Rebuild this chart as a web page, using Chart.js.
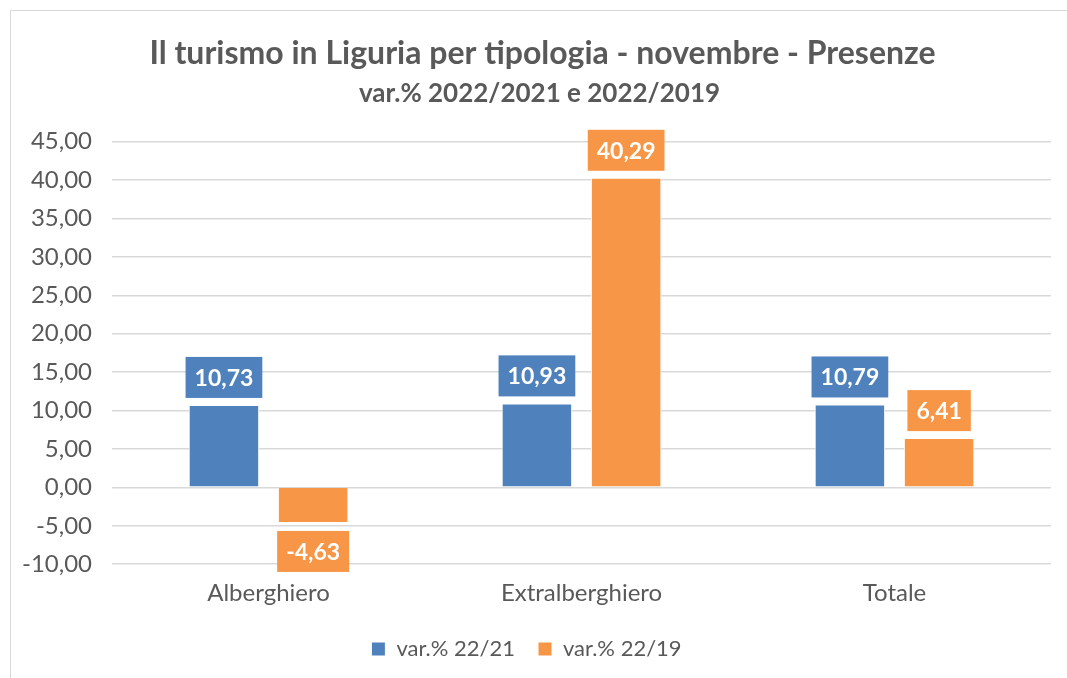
<!DOCTYPE html>
<html>
<head>
<meta charset="utf-8">
<script src="https://cdn.jsdelivr.net/npm/chart.js@4/dist/chart.umd.min.js"></script>
<style>
  html, body { margin: 0; padding: 0; background: #fff; }
  #wrap { position: relative; width: 1067px; height: 678px; }
  #frame { position: absolute; left: 10px; top: 10px; width: 1070px; height: 680px; border: 1px solid #d9d9d9; box-sizing: border-box; }
  canvas { position: absolute; left: 0; top: 0; }
</style>
</head>
<body>
<div id="wrap">
  <div id="frame"></div>
  <canvas id="chart" width="1067" height="678"></canvas>
</div>
<script>
const categories = ["Alberghiero", "Extralberghiero", "Totale"];
const serieLabels = ["var.% 22/21", "var.% 22/19"];
const var2221 = [10.73, 10.93, 10.79];
const var2219 = [-4.63, 40.29, 6.41];
const yMin = -10;
const yMax = 45;
const yStep = 5;

const BLUE = "#4f81bd";
const ORANGE = "#f79646";
const GREY = "#595959";
const FONT = "Lato, 'Open Sans', sans-serif";

const fmt = (v) => v.toFixed(2).replace(".", ",");

// etichette con riquadro colorato sopra / sotto le barre
const boxLabels = {
  id: "boxLabels",
  afterDatasetsDraw(chart) {
    const ctx = chart.ctx;
    ctx.save();
    ctx.font = "bold 23px " + FONT;
    ctx.textAlign = "center";
    ctx.textBaseline = "middle";
    chart.data.datasets.forEach((ds, i) => {
      const meta = chart.getDatasetMeta(i);
      meta.data.forEach((bar, j) => {
        const v = ds.data[j];
        const txt = fmt(v);
        const w = ctx.measureText(txt).width + 18;
        const h = 41;
        const top = v >= 0 ? bar.y - 7 - h : bar.y + 8;
        ctx.fillStyle = ds.backgroundColor;
        ctx.fillRect(bar.x - w / 2, top, w, h);
        ctx.fillStyle = "#fff";
        ctx.fillText(txt, bar.x, top + h / 2 + 1);
      });
    });
    ctx.restore();
  },
};

new Chart(document.getElementById("chart"), {
  type: "bar",
  data: {
    labels: categories,
    datasets: [
      {
        label: serieLabels[0],
        data: var2221,
        backgroundColor: BLUE,
        borderColor: "#fff",
        borderWidth: 1,
        categoryPercentage: 0.57,
        barPercentage: 0.79,
      },
      {
        label: serieLabels[1],
        data: var2219,
        backgroundColor: ORANGE,
        borderColor: "#fff",
        borderWidth: 1,
        categoryPercentage: 0.57,
        barPercentage: 0.79,
      },
    ],
  },
  options: {
    responsive: false,
    animation: false,
    layout: { padding: { left: 2, right: 16, top: 26, bottom: 8 } },
    plugins: {
      title: {
        display: true,
        // spazi iniziali: il titolo nell'originale è un po' spostato a destra
        text: "\u2002\u2002Il turismo in Liguria per tipologia - novembre - Presenze",
        color: GREY,
        font: { family: FONT, size: 32, weight: "bold" },
        padding: { top: 8, bottom: 3 },
      },
      subtitle: {
        display: true,
        text: "\u2002\u2002var.% 2022/2021 e 2022/2019",
        color: GREY,
        font: { family: FONT, size: 26, weight: "bold" },
        padding: { top: 3, bottom: 32 },
      },
      legend: {
        position: "bottom",
        labels: {
          color: GREY,
          font: { family: FONT, size: 22 },
          boxWidth: 14,
          boxHeight: 14,
          padding: 23,
        },
      },
      tooltip: { enabled: false },
    },
    scales: {
      x: {
        grid: { display: false },
        border: { display: false },
        ticks: { color: GREY, font: { family: FONT, size: 24 }, padding: 7 },
      },
      y: {
        min: yMin,
        max: yMax,
        border: { display: false },
        grid: { color: "#d9d9d9", lineWidth: 1.5, drawTicks: false },
        ticks: {
          stepSize: yStep,
          color: GREY,
          font: { family: FONT, size: 24 },
          padding: 20,
          callback: (v) => fmt(v),
        },
      },
    },
  },
  plugins: [boxLabels],
});
</script>
</body>
</html>
